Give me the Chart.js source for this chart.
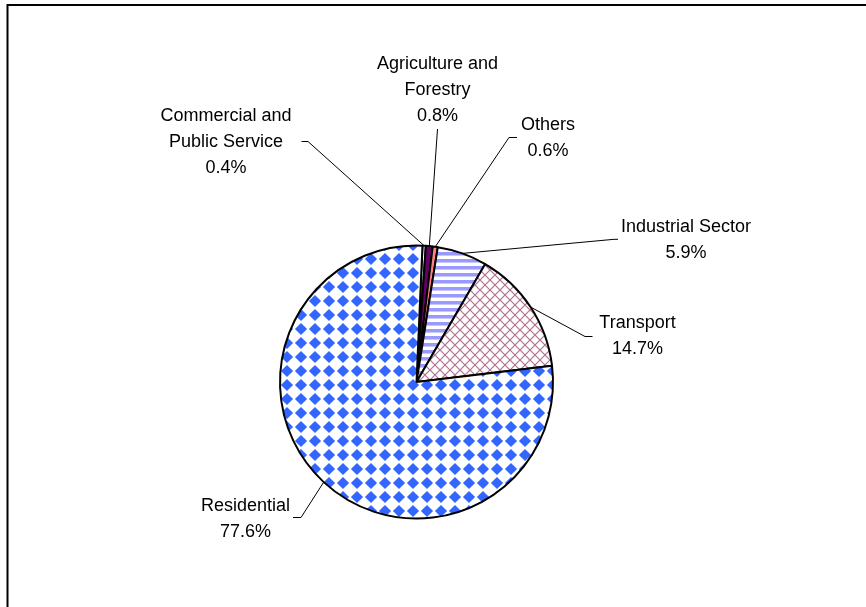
<!DOCTYPE html>
<html><head><meta charset="utf-8">
<script src="https://cdn.jsdelivr.net/npm/chart.js@4/dist/chart.umd.min.js"></script>
<style>html,body{margin:0;padding:0;background:#fff;}canvas{display:block;}</style>
</head><body>
<canvas id="c" width="866" height="607"></canvas>
<script>
// ---- data ----
const categories = ['Commercial and Public Service', 'Agriculture and Forestry', 'Others', 'Industrial Sector', 'Transport', 'Residential'];
const shares = [0.4, 0.8, 0.6, 5.9, 14.7, 77.6];
const nameLines = [['Commercial and', 'Public Service'], ['Agriculture and', 'Forestry'], ['Others'], ['Industrial Sector'], ['Transport'], ['Residential']];

// ---- label layout (positions only) ----
const labelLayout = [
  {x: 226,   y: 121,   elbow: [308, 141.5],   stub: [301.5, 141.5]},
  {x: 437.5, y: 69,    elbow: [437.5, 129],   stub: null},
  {x: 548,   y: 130,   elbow: [509, 137.5],   stub: [517, 137.5]},
  {x: 686,   y: 231.5, elbow: [614, 239.3],   stub: [618, 239.3]},
  {x: 637.5, y: 328,   elbow: [585, 336.5],   stub: [592.5, 336.5]},
  {x: 245.5, y: 510.5, elbow: [301, 517.5],   stub: [293, 517.5]}
];
const LINE_H = 26;

// ---- patterns ----
function tile(w, h, draw) {
  const c = document.createElement('canvas'); c.width = w; c.height = h;
  const g = c.getContext('2d'); g.fillStyle = '#fff'; g.fillRect(0, 0, w, h); draw(g, w, h);
  return document.getElementById('c').getContext('2d').createPattern(c, 'repeat');
}
const diamondPat = tile(14, 14, (g, s) => {
  g.fillStyle = '#3366FF';
  const r = 6.1, cx = s / 2, cy = s / 2;
  g.beginPath(); g.moveTo(cx, cy - r); g.lineTo(cx + r, cy); g.lineTo(cx, cy + r); g.lineTo(cx - r, cy); g.closePath(); g.fill();
});
const stripePat = tile(4, 7, (g) => {
  g.fillStyle = '#9999FF'; g.fillRect(0, 0, 4, 3);
  g.fillStyle = '#C8C8FF'; g.fillRect(0, 3, 4, 1);
});
const hatchPat = tile(10, 10, (g, s) => {
  g.strokeStyle = '#B0708F'; g.lineWidth = 1.2;
  g.beginPath(); g.moveTo(-1, -1); g.lineTo(s + 1, s + 1); g.moveTo(s + 1, -1); g.lineTo(-1, s + 1); g.stroke();
});
const fills = ['#CCFFFF', '#660066', '#FF8080', stripePat, hatchPat, diamondPat];

// ---- plugins ----
const framePlugin = {
  id: 'frame',
  beforeDraw(chart) {
    const ctx = chart.ctx;
    ctx.save();
    ctx.fillStyle = '#fff'; ctx.fillRect(0, 0, chart.width, chart.height);
    ctx.strokeStyle = '#000'; ctx.lineWidth = 2;
    ctx.beginPath(); ctx.moveTo(7.5, chart.height); ctx.lineTo(7.5, 5); ctx.lineTo(chart.width, 5); ctx.stroke();
    ctx.restore();
  }
};
const labelPlugin = {
  id: 'leaderLabels',
  afterDatasetsDraw(chart) {
    const ctx = chart.ctx;
    const meta = chart.getDatasetMeta(0);
    ctx.save();
    meta.data.forEach((el, i) => {
      const p = el.getProps(['x', 'y', 'startAngle', 'endAngle', 'outerRadius'], true);
      const mid = (p.startAngle + p.endAngle) / 2;
      const ax = p.x + Math.cos(mid) * p.outerRadius;
      const ay = p.y + Math.sin(mid) * p.outerRadius;
      const L = labelLayout[i];
      ctx.strokeStyle = '#000'; ctx.lineWidth = 1;
      ctx.beginPath(); ctx.moveTo(ax, ay); ctx.lineTo(L.elbow[0], L.elbow[1]);
      if (L.stub) ctx.lineTo(L.stub[0], L.stub[1]);
      ctx.stroke();
      const lines = nameLines[i].concat([shares[i].toFixed(1) + '%']);
      ctx.fillStyle = '#000';
      ctx.font = '18px "Liberation Sans", Arial, sans-serif';
      ctx.textAlign = 'center'; ctx.textBaseline = 'alphabetic';
      lines.forEach((t, k) => ctx.fillText(t, L.x, L.y + k * LINE_H));
    });
    ctx.restore();
  }
};

new Chart(document.getElementById('c'), {
  type: 'pie',
  data: {
    labels: categories,
    datasets: [{data: shares, backgroundColor: fills, borderColor: '#000', borderWidth: 2}]
  },
  options: {
    responsive: false,
    animation: false,
    devicePixelRatio: 1,
    rotation: 2.5,
    radius: 136.5,
    layout: {padding: {left: 100, right: 133, top: 200, bottom: 43}},
    plugins: {legend: {display: false}, tooltip: {enabled: false}}
  },
  plugins: [framePlugin, labelPlugin]
});
</script>
</body></html>
